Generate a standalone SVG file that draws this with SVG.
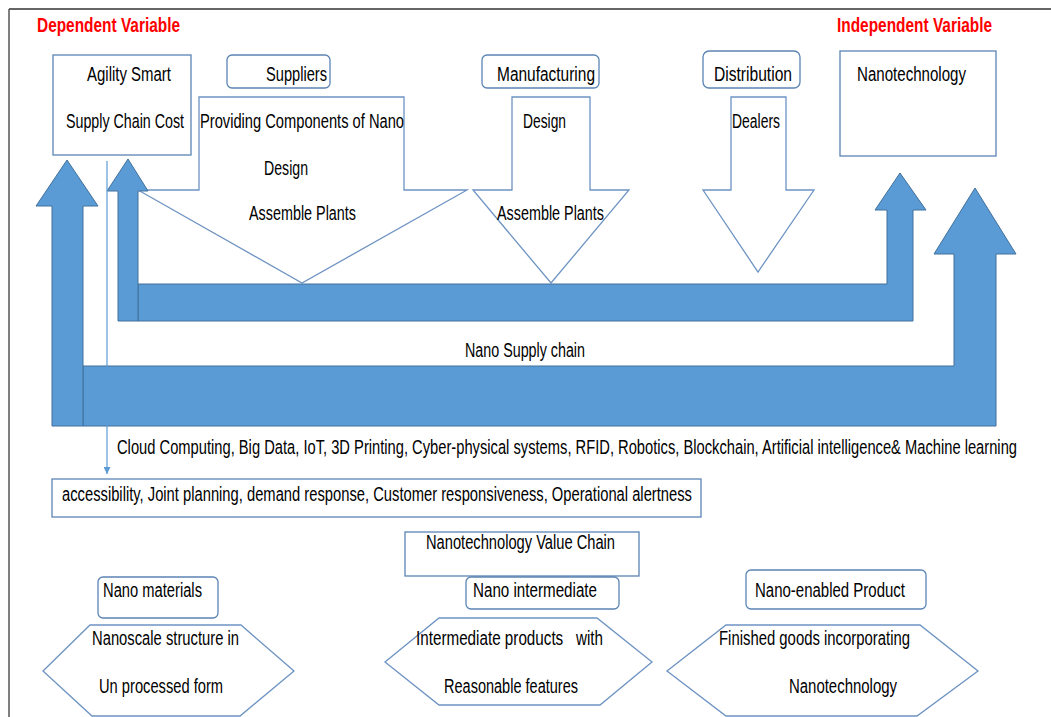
<svg xmlns="http://www.w3.org/2000/svg" width="1051" height="717" viewBox="0 0 1051 717">
<defs>
<style>
.t{font-family:"Liberation Sans Narrow","Liberation Sans",Arial,sans-serif;font-size:19.5px;fill:#000;}
.h{font-family:"Liberation Sans Narrow","Liberation Sans",Arial,sans-serif;font-size:20px;font-weight:bold;fill:#FF0000;}
.box{fill:#fff;stroke:#5b84b4;stroke-width:1.3;}
.out{fill:#fff;stroke:#6d93c2;stroke-width:1.3;}
.blue{fill:#5B9BD5;stroke:#41719C;stroke-width:1;}
</style>
<marker id="ah" viewBox="0 0 10 10" refX="10" refY="5" markerWidth="7" markerHeight="7" orient="auto" markerUnits="userSpaceOnUse">
<path d="M0,0 L10,5 L0,10 z" fill="#5B9BD5"/>
</marker>
</defs>
<rect width="1051" height="717" fill="#fff"/>
<g id="frame">
<line x1="9" y1="9" x2="1051" y2="9" stroke="#333" stroke-width="1.5"/>
<line x1="9" y1="9" x2="9" y2="717" stroke="#555" stroke-width="1.5"/>
</g>
<text class="h" x="37" y="32" textLength="143" lengthAdjust="spacingAndGlyphs">Dependent Variable</text>
<text class="h" x="837" y="32" textLength="155" lengthAdjust="spacingAndGlyphs">Independent Variable</text>

<g id="agility">
<rect class="box" x="53" y="55" width="138" height="100"/>
<text class="t" x="87" y="81" textLength="84" lengthAdjust="spacingAndGlyphs">Agility Smart</text>
<text class="t" transform="translate(66,128) scale(0.72,1)" x="0" y="0" textLength="164" lengthAdjust="spacingAndGlyphs">Supply Chain Cost</text>
</g>
<g id="suppliers">
<rect class="box" x="227" y="55" width="103" height="33" rx="5"/>
<text class="t" x="266" y="81" textLength="61" lengthAdjust="spacingAndGlyphs">Suppliers</text>
</g>
<g id="suppliers-arrow">
<polygon class="out" points="199,97 404,97 404,190 467,190 302,283 138,190 199,190"/>
<text class="t" transform="translate(200,128) scale(0.75,1)" x="0" y="0" textLength="272" lengthAdjust="spacingAndGlyphs">Providing Components of Nano</text>
<text class="t" x="264" y="175" textLength="44" lengthAdjust="spacingAndGlyphs">Design</text>
<text class="t" x="249" y="220" textLength="107" lengthAdjust="spacingAndGlyphs">Assemble Plants</text>
</g>
<g id="manufacturing">
<rect class="box" x="482" y="55" width="117" height="33" rx="5"/>
<text class="t" x="497" y="81" textLength="98" lengthAdjust="spacingAndGlyphs">Manufacturing</text>
</g>
<g id="manufacturing-arrow">
<polygon class="out" points="512,97 590,97 590,190 629,190 551,283 473,190 512,190"/>
<text class="t" x="523" y="128" textLength="43" lengthAdjust="spacingAndGlyphs">Design</text>
<text class="t" x="497" y="220" textLength="107" lengthAdjust="spacingAndGlyphs">Assemble Plants</text>
</g>
<g id="distribution">
<rect class="box" x="703" y="51" width="97" height="37" rx="6"/>
<text class="t" x="714" y="81" textLength="78" lengthAdjust="spacingAndGlyphs">Distribution</text>
</g>
<g id="distribution-arrow">
<polygon class="out" points="731,97 786,97 786,190 814,190 758,272 703,190 731,190"/>
<text class="t" x="732" y="128" textLength="48" lengthAdjust="spacingAndGlyphs">Dealers</text>
</g>
<g id="nanotechnology">
<rect class="box" x="840" y="51" width="156" height="105"/>
<text class="t" x="857" y="81" textLength="109" lengthAdjust="spacingAndGlyphs">Nanotechnology</text>
</g>

<g id="connectors">
<polygon class="blue" points="83,366 954,366 954,254 934,254 975,188 1016,254 996,254 996,426 83,426"/>
<polygon class="blue" points="52,426 52,206 36,206 67,160 98,206 83,206 83,426"/>
<polygon class="blue" points="138,284 887,284 887,210 875,210 900,173 926,210 913,210 913,321 138,321"/>
<polygon class="blue" points="118,321 118,191 107,191 128,159 148,191 138,191 138,321"/>
<line x1="107" y1="161" x2="107" y2="474" stroke="#5B9BD5" stroke-width="1.2" marker-end="url(#ah)"/>
</g>
<text class="t" x="465" y="357" textLength="120" lengthAdjust="spacingAndGlyphs">Nano Supply chain</text>
<text class="t" transform="translate(117,454) scale(0.72,1)" x="0" y="0" textLength="1250" lengthAdjust="spacingAndGlyphs">Cloud Computing, Big Data, IoT, 3D Printing, Cyber-physical systems, RFID, Robotics, Blockchain, Artificial intelligence&amp; Machine learning</text>

<g id="agility-factors">
<rect class="box" x="52" y="479" width="649" height="38"/>
<text class="t" x="62" y="501" textLength="630" lengthAdjust="spacingAndGlyphs">accessibility, Joint planning, demand response, Customer responsiveness, Operational alertness</text>
</g>

<g id="value-chain">
<rect class="box" x="405" y="532" width="234" height="44"/>
<text class="t" x="426" y="549" textLength="189" lengthAdjust="spacingAndGlyphs">Nanotechnology Value Chain</text>
</g>
<g id="nano-materials">
<rect class="box" x="98" y="577" width="120" height="41" rx="5"/>
<text class="t" x="103" y="597" textLength="99" lengthAdjust="spacingAndGlyphs">Nano materials</text>
</g>
<g id="nano-intermediate">
<rect class="box" x="466" y="577" width="153" height="32" rx="5"/>
<text class="t" x="473" y="597" textLength="124" lengthAdjust="spacingAndGlyphs">Nano intermediate</text>
</g>
<g id="nano-enabled">
<rect class="box" x="746" y="570" width="180" height="39" rx="5"/>
<text class="t" x="755" y="597" textLength="150" lengthAdjust="spacingAndGlyphs">Nano-enabled Product</text>
</g>
<g id="hex-materials">
<polygon class="out" points="90,625 241,625 294,671 240,716 92,716 43,671"/>
<text class="t" x="92" y="645" textLength="147" lengthAdjust="spacingAndGlyphs">Nanoscale structure in</text>
<text class="t" x="99" y="693" textLength="124" lengthAdjust="spacingAndGlyphs">Un processed form</text>
</g>
<g id="hex-intermediate">
<polygon class="out" points="439,618 597,618 652,662 600,705 439,705 385,662"/>
<text class="t" x="416" y="645" textLength="187" lengthAdjust="spacingAndGlyphs" style="white-space:pre">Intermediate products   with</text>
<text class="t" x="444" y="693" textLength="134" lengthAdjust="spacingAndGlyphs">Reasonable features</text>
</g>
<g id="hex-product">
<polygon class="out" points="726,625 920,625 978,671 917,716 726,716 667,671"/>
<text class="t" x="719" y="645" textLength="191" lengthAdjust="spacingAndGlyphs">Finished goods incorporating</text>
<text class="t" x="789" y="693" textLength="108" lengthAdjust="spacingAndGlyphs">Nanotechnology</text>
</g>
</svg>
